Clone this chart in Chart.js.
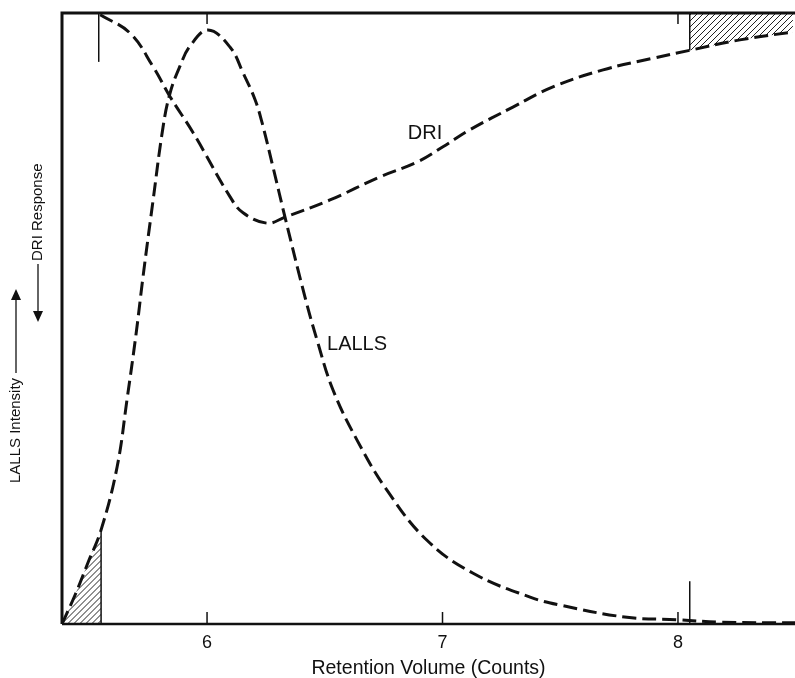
<!DOCTYPE html>
<html>
<head>
<meta charset="utf-8">
<script src="https://cdn.jsdelivr.net/npm/chart.js@4.4.0/dist/chart.umd.min.js"></script>
<style>
    html, body { margin: 0; padding: 0; background: #fff; }
    #wrap { width: 795px; height: 678px; }
</style>
</head>
<body>
<div id="wrap"><canvas id="chart" width="795" height="678"></canvas></div>
<script>
// Werte (x = Retention Volume, y = relative Intensität 0..100)
const lallsX = [5.384, 5.439, 5.495, 5.550, 5.618, 5.660, 5.699, 5.728, 5.771, 5.813, 5.843, 5.885, 5.928, 6.004,
                6.098, 6.153, 6.204, 6.234, 6.280, 6.331, 6.416, 6.467, 6.535, 6.637, 6.764, 6.934, 7.130, 7.372,
                7.499, 7.783, 7.996, 8.178, 8.497];
const lallsY = [0, 4.7, 10.1, 15.4, 25.7, 36.7, 47.6, 56.8, 69.4, 81.3, 86.9, 91.3, 94.6, 97.2,
                94.4, 90.2, 85.8, 82.0, 74.8, 66.6, 53.5, 46.5, 38.3, 30.1, 21.9, 13.7, 8.3, 4.4,
                3.1, 1.1, 0.7, 0.3, 0.2];
const driX = [5.546, 5.673, 5.771, 5.843, 5.941, 6.098, 6.153, 6.255, 6.331, 6.522, 6.735, 6.892, 7.002,
              7.117, 7.299, 7.469, 7.682, 7.894, 8.051, 8.263, 8.488];
const driY = [99.7, 96.7, 91.2, 86.3, 80.4, 69.9, 67.3, 65.6, 66.6, 69.4, 73.2, 75.6, 78.1,
              80.9, 84.6, 87.9, 90.7, 92.6, 93.9, 95.6, 96.9];
const xTicks = [6, 7, 8];
const topTicks = [6, 8];
const lallsHatchEnd = 5.55;   // schraffierte Fläche unter LALLS bis hier
const driHatchStart = 8.05;   // schraffierte Fläche über DRI ab hier
const markerLines = [[5.54, 100, 92], [8.05, 0, 7]]; // [x, y von, y bis]
const curveLabels = [['DRI', 6.926, 80.2], ['LALLS', 6.637, 45.7]];

const toPoints = (xs, ys) => xs.map((x, i) => ({ x: x, y: ys[i] }));
const lallsPts = toPoints(lallsX, lallsY);
const driPts = toPoints(driX, driY);

const makeHatch = (dx) => {
    const c = document.createElement('canvas');
    c.width = 6; c.height = 6;
    const g = c.getContext('2d');
    g.strokeStyle = '#222';
    g.lineWidth = 1;
    g.beginPath();
    g.moveTo(-dx, 6); g.lineTo(6 - dx, 0);
    g.moveTo(6 - dx, 6); g.lineTo(12 - dx, 0);
    g.moveTo(-6 - dx, 6); g.lineTo(0 - dx, 0);
    g.stroke();
    return g.createPattern(c, 'repeat');
};
const ctxMain = document.getElementById('chart').getContext('2d');
const hatchA = makeHatch(4.5);
const hatchB = makeHatch(3);

const valAt = (pts, x) => {
    const p = pts.find(pt => Math.abs(pt.x - x) < 0.005);
    return p ? p.y : 0;
};

const framePlugin = {
    id: 'frame',
    afterDatasetsDraw(chart) {
        const { ctx, chartArea: a, scales } = chart;
        const xs = scales.x, ys = scales.y;
        ctx.save();
        ctx.strokeStyle = '#111';
        ctx.lineCap = 'butt';
        // Rahmen
        ctx.lineWidth = 3;
        ctx.beginPath();
        ctx.moveTo(a.left, a.bottom); ctx.lineTo(a.left, a.top); ctx.lineTo(a.right, a.top);
        ctx.stroke();
        ctx.lineWidth = 2.5;
        ctx.beginPath();
        ctx.moveTo(a.left, a.bottom); ctx.lineTo(a.right, a.bottom);
        ctx.stroke();
        // Ticks nach innen
        ctx.lineWidth = 1.5;
        xTicks.forEach(v => {
            const px = xs.getPixelForValue(v);
            ctx.beginPath(); ctx.moveTo(px, a.bottom); ctx.lineTo(px, a.bottom - 12); ctx.stroke();
        });
        topTicks.forEach(v => {
            const px = xs.getPixelForValue(v);
            ctx.beginPath(); ctx.moveTo(px, a.top); ctx.lineTo(px, a.top + 11); ctx.stroke();
        });
        // Markierungslinien
        markerLines.forEach(m => {
            const px = xs.getPixelForValue(m[0]);
            ctx.beginPath(); ctx.moveTo(px, ys.getPixelForValue(m[1])); ctx.lineTo(px, ys.getPixelForValue(m[2])); ctx.stroke();
        });
        // Kanten der Schraffur
        let px = xs.getPixelForValue(lallsHatchEnd);
        ctx.beginPath(); ctx.moveTo(px, a.bottom); ctx.lineTo(px, ys.getPixelForValue(valAt(lallsPts, lallsHatchEnd))); ctx.stroke();
        px = xs.getPixelForValue(driHatchStart);
        ctx.beginPath(); ctx.moveTo(px, a.top); ctx.lineTo(px, ys.getPixelForValue(valAt(driPts, 8.051))); ctx.stroke();
        // Kurvenbeschriftung
        ctx.fillStyle = '#111';
        ctx.font = '20px "Liberation Sans", Arial, sans-serif';
        ctx.textAlign = 'center';
        ctx.textBaseline = 'middle';
        curveLabels.forEach(l => {
            ctx.fillText(l[0], xs.getPixelForValue(l[1]), ys.getPixelForValue(l[2]));
        });
        // Y-Achsentitel mit Pfeilen
        ctx.font = '15px "Liberation Sans", Arial, sans-serif';
        ctx.textAlign = 'left';
        ctx.lineWidth = 1.3;
        ctx.save();
        ctx.translate(16, 483);
        ctx.rotate(-Math.PI / 2);
        ctx.fillText('LALLS Intensity', 0, 0);
        let w = ctx.measureText('LALLS Intensity').width;
        ctx.beginPath(); ctx.moveTo(w + 5, 0); ctx.lineTo(186, 0); ctx.stroke();
        ctx.beginPath(); ctx.moveTo(194, 0); ctx.lineTo(183, -5); ctx.lineTo(183, 5); ctx.closePath(); ctx.fill();
        ctx.restore();
        ctx.save();
        ctx.translate(38, 322);
        ctx.rotate(-Math.PI / 2);
        ctx.beginPath(); ctx.moveTo(0, 0); ctx.lineTo(11, -5); ctx.lineTo(11, 5); ctx.closePath(); ctx.fill();
        ctx.beginPath(); ctx.moveTo(8, 0); ctx.lineTo(58, 0); ctx.stroke();
        ctx.fillText('DRI Response', 61, 0);
        ctx.restore();
        ctx.restore();
    }
};

const lineStyle = {
    borderColor: '#111',
    borderWidth: 3,
    borderDash: [14, 6],
    pointRadius: 0,
    fill: false,
    tension: 0.4
};

new Chart(ctxMain, {
    type: 'line',
    data: {
        datasets: [
            Object.assign({ label: 'LALLS', data: lallsPts }, lineStyle),
            Object.assign({ label: 'DRI', data: driPts }, lineStyle),
            {
                label: 'LALLS hatch',
                data: lallsPts.filter(p => p.x <= lallsHatchEnd + 0.001),
                borderWidth: 0,
                pointRadius: 0,
                backgroundColor: hatchA,
                fill: 'origin',
                tension: 0.4
            },
            {
                label: 'DRI hatch',
                data: driPts.filter(p => p.x >= driHatchStart),
                borderWidth: 0,
                pointRadius: 0,
                backgroundColor: hatchB,
                fill: 'end',
                tension: 0.4
            }
        ]
    },
    options: {
        responsive: false,
        animation: false,
        layout: { padding: { left: 62, top: 13, right: 0, bottom: 0 } },
        plugins: {
            legend: { display: false },
            tooltip: { enabled: false }
        },
        scales: {
            x: {
                type: 'linear',
                min: 5.384,
                max: 8.497,
                afterBuildTicks: (scale) => { scale.ticks = xTicks.map(v => ({ value: v })); },
                afterFit: (scale) => { scale.height = 54; },
                grid: { display: false, drawTicks: false },
                border: { display: false },
                ticks: {
                    color: '#111',
                    padding: 8,
                    maxRotation: 0,
                    font: { family: '"Liberation Sans", Arial, sans-serif', size: 18 }
                },
                title: {
                    display: true,
                    text: 'Retention Volume (Counts)',
                    color: '#111',
                    padding: { top: 0, bottom: 0 },
                    font: { family: '"Liberation Sans", Arial, sans-serif', size: 19.5, lineHeight: 1 }
                }
            },
            y: {
                display: false,
                min: 0,
                max: 100
            }
        }
    },
    plugins: [framePlugin]
});
</script>
</body>
</html>
